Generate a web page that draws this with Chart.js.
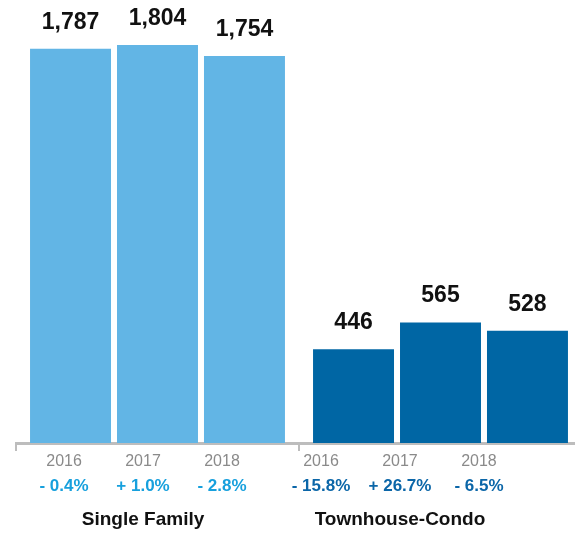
<!DOCTYPE html>
<html>
<head>
<meta charset="utf-8">
<script src="https://cdn.jsdelivr.net/npm/chart.js@4/dist/chart.umd.min.js"></script>
<style>
  html, body { margin: 0; padding: 0; background: #fff; overflow: hidden; }
  #wrap { width: 590px; height: 533px; }
</style>
</head>
<body>
<div id="wrap"><canvas id="chart"></canvas></div>
<script>
var groups = ["Single Family", "Townhouse-Condo"];
var years = ["2016", "2017", "2018"];
var val_2016 = [1787, 446];
var val_2017 = [1804, 565];
var val_2018 = [1754, 528];
var change_single = ["- 0.4%", "+ 1.0%", "- 2.8%"];
var change_condo = ["- 15.8%", "+ 26.7%", "- 6.5%"];

var group_colors = ["#62b5e5", "#0066a4"];
var change_colors = ["#17a0dd", "#0b66a8"];
var font_family = "'Liberation Sans', Arial, Helvetica, sans-serif";
// the text rows under the axis sit a bit tighter than the bars
var text_squeeze = 0.908;

var labelsPlugin = {
    id: "labels",
    afterDatasetsDraw: function(chart) {
        const ctx = chart.ctx;
        const changes = [change_single, change_condo];
        ctx.save();
        ctx.textAlign = "center";
        ctx.textBaseline = "alphabetic";
        chart.data.datasets.forEach(function(ds, i) {
            const meta = chart.getDatasetMeta(i);
            meta.data.forEach(function(bar, j) {
                // value above bar
                ctx.fillStyle = "#111";
                ctx.font = "bold 23px " + font_family;
                ctx.fillText(ds.data[j].toLocaleString("en-US"), bar.x, bar.y - 20);

                const tx = bar.x * text_squeeze;
                ctx.fillStyle = "#8a8a8a";
                ctx.font = "16px " + font_family;
                ctx.fillText(years[i], tx, 465.5);

                ctx.fillStyle = change_colors[j];
                ctx.font = "bold 17px " + font_family;
                ctx.fillText(changes[j][i], tx, 491);
            });
        });
        const xScale = chart.scales.x;
        ctx.fillStyle = "#111";
        ctx.font = "bold 19px " + font_family;
        groups.forEach(function(g, j) {
            ctx.fillText(g, xScale.getPixelForValue(j) * text_squeeze, 525);
        });
        ctx.restore();
    }
};

const ctx = document.getElementById("chart").getContext("2d");
const myChart = new Chart(ctx, {
    type: "bar",
    data: {
        labels: groups,
        datasets: [
            { label: years[0], data: val_2016, backgroundColor: group_colors },
            { label: years[1], data: val_2017, backgroundColor: group_colors },
            { label: years[2], data: val_2018, backgroundColor: group_colors },
        ],
    },
    options: {
        responsive: true,
        maintainAspectRatio: false,
        animation: false,
        layout: {
            padding: { left: 16, right: 8, top: 1, bottom: 82 },
        },
        datasets: {
            bar: {
                categoryPercentage: 0.922,
                barPercentage: 0.931,
            },
        },
        plugins: {
            legend: { display: false },
            tooltip: { enabled: false },
        },
        scales: {
            x: {
                grid: {
                    display: true,
                    drawOnChartArea: false,
                    drawTicks: true,
                    tickLength: 8,
                    color: "#bdbdbd",
                    lineWidth: 2,
                },
                border: { display: true, color: "#bdbdbd", width: 3 },
                ticks: { display: false },
            },
            y: {
                display: false,
                min: 27,
                max: 2000,
            },
        },
    },
    plugins: [labelsPlugin],
});
</script>
</body>
</html>
